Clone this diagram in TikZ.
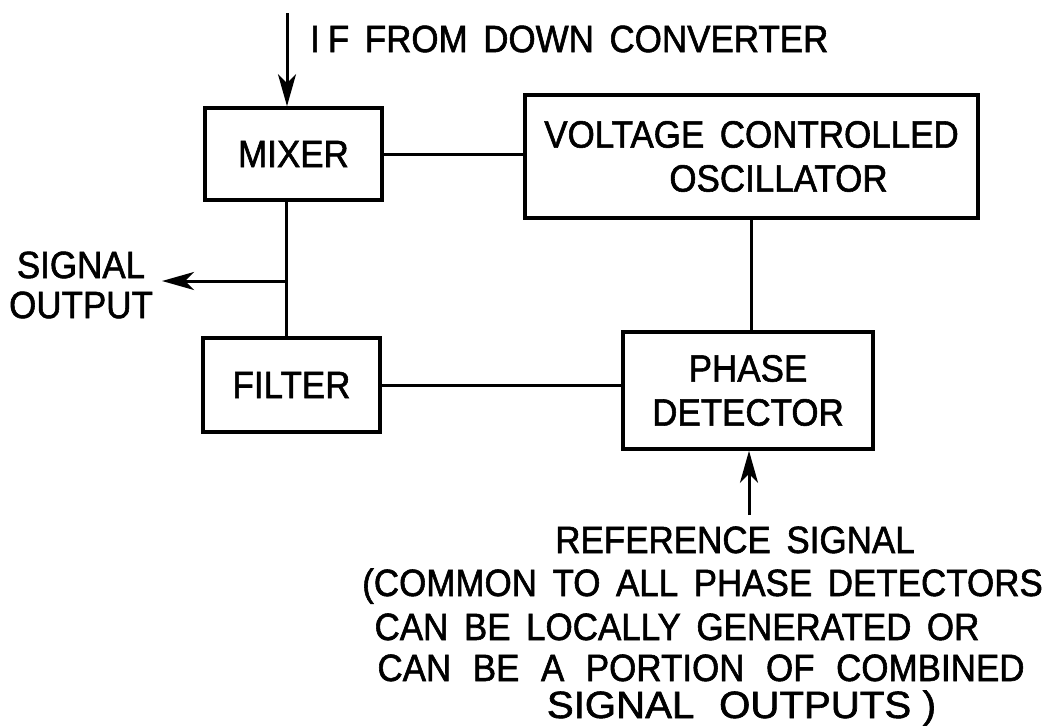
\documentclass[tikz,border=0pt]{standalone}
\usepackage{fontspec}
\setmainfont{Liberation Sans}[FakeStretch=0.92, FakeBold=1.5, WordSpace=1.6]
\usetikzlibrary{arrows.meta}
\begin{document}
\begin{tikzpicture}[x=1pt,y=-1pt,
  lbl/.style={font=\fontsize{38}{42}\selectfont, inner sep=2pt},
  blk/.style={draw, line width=3.6pt, rectangle, align=center, font=\fontsize{38}{42}\selectfont, inner sep=0pt},
  wire/.style={line width=3pt},
  arr/.style={line width=3pt, -{Stealth[length=32pt,width=18pt,inset=9pt]}}]
\useasboundingbox[fill=white] (0,0) rectangle (1053,726);
% blocks
\node[blk, minimum width=177pt, minimum height=92pt] (mixer) at (293.5,154) {MIXER};
\node[blk, minimum width=453pt, minimum height=123pt] (vco) at (751.5,156.5) {VOLTAGE CONTROLLED\\[2pt]\hspace*{54pt}OSCILLATOR};
\node[blk, minimum width=177pt, minimum height=94pt] (filter) at (291.5,385) {FILTER};
\node[blk, minimum width=250pt, minimum height=117pt] (pd) at (748,390.5) {PHASE\\[2pt]DETECTOR};
% labels
\node[lbl, anchor=west] (iflbl) at (308,39) {I\kern8pt F FROM DOWN CONVERTER};
\node[lbl, align=center, inner sep=0pt] (sigout) at (81,285) {SIGNAL\\[-2pt]OUTPUT};
\node[lbl, anchor=base] (ref1) at (735,553) {REFERENCE SIGNAL};
\node[lbl, anchor=base] (ref2) at (702.5,596) {(COMMON TO ALL PHASE DETECTORS};
\node[lbl, anchor=base] (ref3) at (677,640) {CAN BE LOCALLY GENERATED OR};
\node[lbl, anchor=base] (ref4) at (701,681) {CAN\hspace{6pt} BE\hspace{6pt} A\hspace{6pt} PORTION\hspace{6pt} OF\hspace{6pt} COMBINED};
\node[lbl, anchor=base] (ref5) at (741.5,718) {\scalebox{1.15}[1]{SIGNAL\hspace{6pt} OUTPUTS\kern10pt)}};
% coordinates
\coordinate (ifin) at (287,13);
\coordinate (j) at (286,281);
\coordinate (refin) at (749,515);
% connectors
\draw[arr] (ifin) -- (ifin |- mixer.north);
\draw[wire] (mixer.east) -- (mixer.east -| vco.west);
\draw[wire] (vco.south) -- (vco.south |- pd.north);
\draw[wire] (mixer.south -| j) -- (filter.north -| j);
\draw[arr] (j) -- ([xshift=9pt]j -| sigout.east);
\draw[wire] (filter.east) -- (filter.east -| pd.west);
\draw[arr] (refin) -- (refin |- pd.south);
\end{tikzpicture}
\end{document}
